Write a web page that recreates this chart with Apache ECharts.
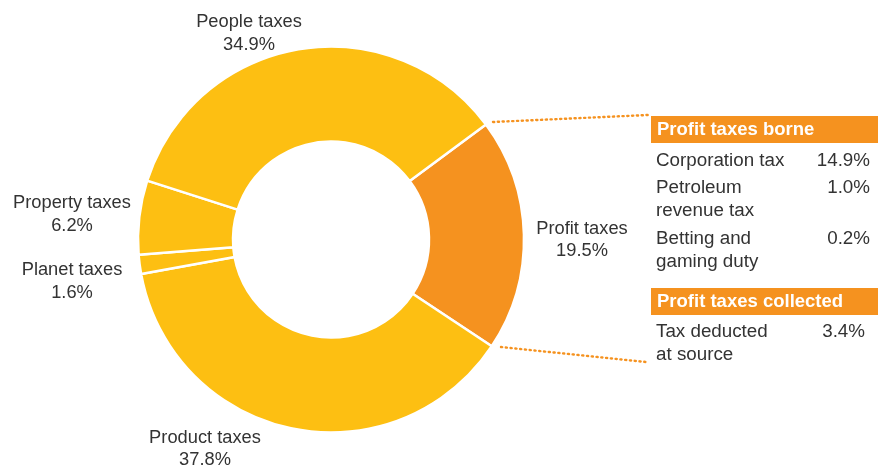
<!DOCTYPE html>
<html>
<head>
<meta charset="utf-8">
<script src="https://cdn.jsdelivr.net/npm/echarts@6/dist/echarts.min.js"></script>
<style>
  html, body { margin: 0; padding: 0; background: #ffffff; }
  #chart { width: 889px; height: 468px; }
</style>
</head>
<body>
<div id="chart"></div>
<script>
// Share of total tax contribution by tax type (clockwise from the profit slice)
const categories = ['Profit taxes', 'Product taxes', 'Planet taxes', 'Property taxes', 'People taxes'];
const shares = [19.5, 37.8, 1.6, 6.2, 34.9];

// Breakdown of profit taxes
const borneTitle = 'Profit taxes borne';
const borneItems = ['Corporation tax', 'Petroleum\nrevenue tax', 'Betting and\ngaming duty'];
const borneValues = [14.9, 1.0, 0.2];
const collectedTitle = 'Profit taxes collected';
const collectedItems = ['Tax deducted\nat source'];
const collectedValues = [3.4];

const YELLOW = '#FDBF12';
const ORANGE = '#F5921F';
const TEXT = '#333333';
const FONT = '"Liberation Sans", Arial, Helvetica, sans-serif';

// Label anchor points (centre of each two-line label)
const labelPos = {
  'Profit taxes':   [582, 240],
  'Product taxes':  [205, 449],
  'Planet taxes':   [72, 281.5],
  'Property taxes': [72, 214.5],
  'People taxes':   [249, 33.5]
};

const chart = echarts.init(document.getElementById('chart'), null, { renderer: 'canvas' });

// Right-hand breakdown panel
const panelX = 651, panelW = 227;
const graphics = [];

function header(title, top) {
  graphics.push({
    type: 'rect', shape: { x: panelX, y: top, width: panelW, height: 27 },
    style: { fill: ORANGE }
  });
  graphics.push({
    type: 'text', x: panelX + 6, y: top + 14,
    style: { text: title, fill: '#ffffff', font: 'bold 18.5px ' + FONT, verticalAlign: 'middle' }
  });
}
function rows(items, values, firstY, rowHeights, rightEdges) {
  let y = firstY;
  items.forEach((name, i) => {
    graphics.push({
      type: 'text', x: panelX + 5, y: y,
      style: { text: name, fill: TEXT, font: '18.8px ' + FONT, lineHeight: 22.5, verticalAlign: 'top' }
    });
    graphics.push({
      type: 'text', x: rightEdges[i], y: y,
      style: { text: values[i].toFixed(1) + '%', fill: TEXT, font: '18.8px ' + FONT, align: 'right', verticalAlign: 'top', lineHeight: 22.5 }
    });
    y += rowHeights[i];
  });
}

header(borneTitle, 116);
rows(borneItems, borneValues, 150, [27, 51, 51], [870, 870, 870]);
header(collectedTitle, 288);
rows(collectedItems, collectedValues, 321, [45], [865]);

// Dotted leader lines from the profit slice to the panel
const dotted = { stroke: ORANGE, lineWidth: 2.4, lineDash: [1.2, 3.6], lineCap: 'round' };
graphics.push({ type: 'line', shape: { x1: 493, y1: 122, x2: 648, y2: 115 }, style: dotted });
graphics.push({ type: 'line', shape: { x1: 501, y1: 347, x2: 646, y2: 362 }, style: dotted });

chart.setOption({
  animation: false,
  backgroundColor: '#ffffff',
  graphic: graphics,
  series: [{
    type: 'pie',
    center: [331, 239.5],
    radius: [98, 193],
    startAngle: 36.6,
    clockwise: true,
    silent: true,
    avoidLabelOverlap: false,
    itemStyle: { borderColor: '#ffffff', borderWidth: 2.5 },
    label: {
      show: true,
      position: 'outside',
      formatter: p => p.name + '\n' + p.value.toFixed(1) + '%',
      color: TEXT,
      fontFamily: FONT,
      fontSize: 18.3,
      lineHeight: 22.5,
      align: 'center'
    },
    labelLine: { show: false },
    labelLayout: params => {
      const pos = labelPos[categories[params.dataIndex]];
      return { x: pos[0], y: pos[1], align: 'center', verticalAlign: 'middle', hideOverlap: false, moveOverlap: false };
    },
    data: categories.map((name, i) => ({
      name: name,
      value: shares[i],
      itemStyle: { color: name === 'Profit taxes' ? ORANGE : YELLOW }
    }))
  }]
});
</script>
</body>
</html>
